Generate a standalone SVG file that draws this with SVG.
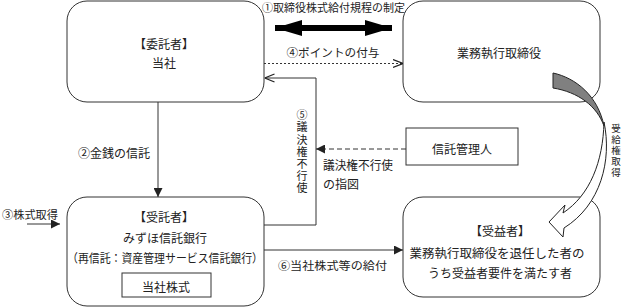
<svg xmlns="http://www.w3.org/2000/svg" width="622" height="307" viewBox="0 0 622 307">
<defs>
<style>
.box{fill:#fff;stroke:#333;stroke-width:1}
.ln{fill:none;stroke:#333;stroke-width:1}
text{font-family:"Noto Sans CJK JP","Noto Sans",sans-serif;font-size:12px;fill:#222;dominant-baseline:central}
.c{text-anchor:middle}
.v{writing-mode:vertical-rl;text-orientation:upright;text-anchor:start}
</style>
<marker id="fill" viewBox="0 0 10 10" refX="10" refY="5" markerWidth="9" markerHeight="9" markerUnits="userSpaceOnUse" orient="auto"><path d="M0,0L10,5L0,10Z" fill="#222"/></marker>
<marker id="open" viewBox="0 0 10 10" refX="10" refY="5" markerWidth="10" markerHeight="10" markerUnits="userSpaceOnUse" orient="auto"><path d="M0,1L10,5L0,9" fill="none" stroke="#222" stroke-width="1.2"/></marker>
<marker id="big" viewBox="0 0 27 16" refX="27" refY="8" markerWidth="27" markerHeight="16" markerUnits="userSpaceOnUse" orient="auto-start-reverse"><path d="M0,0L27,8L0,16Z" fill="#000"/></marker>
</defs>
<g id="itakusha">
<rect x="67" y="1" width="197" height="101" rx="20" class="box"/>
<text x="164" y="43" class="c">【委託者】</text>
<text x="164" y="62" class="c">当社</text>
</g>
<g id="torishimari">
<rect x="403" y="1" width="197" height="101" rx="20" class="box"/>
<text x="499" y="52" class="c">業務執行取締役</text>
</g>
<g id="kanrinin">
<rect x="406" y="128" width="112" height="37" class="box"/>
<text x="462" y="148" class="c">信託管理人</text>
</g>
<g id="jutakusha">
<rect x="67" y="197" width="197" height="109" rx="20" class="box"/>
<text x="164" y="216" class="c">【受託者】</text>
<text x="165" y="237" class="c">みずほ信託銀行</text>
<text x="165" y="257" class="c" textLength="196" lengthAdjust="spacingAndGlyphs">（再信託：資産管理サービス信託銀行）</text>
<rect x="122" y="273" width="89" height="24" class="box"/>
<text x="166" y="286" class="c">当社株式</text>
</g>
<g id="juekisha">
<rect x="403" y="197" width="197" height="100" rx="20" class="box"/>
<text x="500" y="230" class="c">【受益者】</text>
<text x="497" y="252" class="c" textLength="175" lengthAdjust="spacingAndGlyphs">業務執行取締役を退任した者の</text>
<text x="500" y="272" class="c" textLength="144" lengthAdjust="spacingAndGlyphs">うち受益者要件を満たす者</text>
</g>
<g id="connectors">
<line x1="275" y1="28" x2="392" y2="28" stroke="#000" stroke-width="6" marker-start="url(#big)" marker-end="url(#big)"/>
<line x1="264" y1="63.5" x2="403" y2="63.5" class="ln" stroke-dasharray="2,2" marker-end="url(#open)"/>
<polyline points="264,225 316,225 316,78 264.5,78" class="ln" marker-end="url(#open)"/>
<line x1="406" y1="149" x2="316" y2="149" class="ln" stroke-dasharray="5,3" marker-end="url(#fill)"/>
<line x1="158" y1="102" x2="158" y2="197" class="ln" marker-end="url(#fill)"/>
<line x1="27" y1="224" x2="60" y2="224" class="ln" marker-end="url(#fill)"/>
<line x1="264" y1="250" x2="403" y2="250" class="ln" marker-end="url(#fill)"/>
<path d="M553,73 C576,78 598,96 604,126 C597,106 578,92 553,88 Z" fill="#808080" stroke="#222" stroke-width="1"/>
<path d="M604,122 C612,160 601,205 564,228 L563,237 L549,222 L565,205 L563,213 C590,195 603,162 604,122 Z" fill="#fff" stroke="#222" stroke-width="1"/>
<text x="262" y="7" textLength="143" lengthAdjust="spacingAndGlyphs" style="font-size:11px">①取締役株式給付規程の制定</text>
<text x="333" y="52" class="c" textLength="93" lengthAdjust="spacingAndGlyphs" style="font-size:11.5px">④ポイントの付与</text>
<text x="150" y="152" style="text-anchor:end">②金銭の信託</text>
<text x="2" y="214" textLength="56" lengthAdjust="spacingAndGlyphs" style="font-size:11.5px">③株式取得</text>
<text x="278" y="265" textLength="109" lengthAdjust="spacingAndGlyphs" style="font-size:11px">⑥当社株式等の給付</text>
<text x="323" y="164" textLength="70" lengthAdjust="spacingAndGlyphs">議決権不行使</text>
<text x="323" y="183">の指図</text>
<text x="302" y="109.5" class="v" style="font-size:11px;letter-spacing:1.2px">⑤議決権不行使</text>
<text x="616" y="123.2" class="v" style="font-size:9.5px;letter-spacing:1.5px">受給権取得</text>
</g>
</svg>
